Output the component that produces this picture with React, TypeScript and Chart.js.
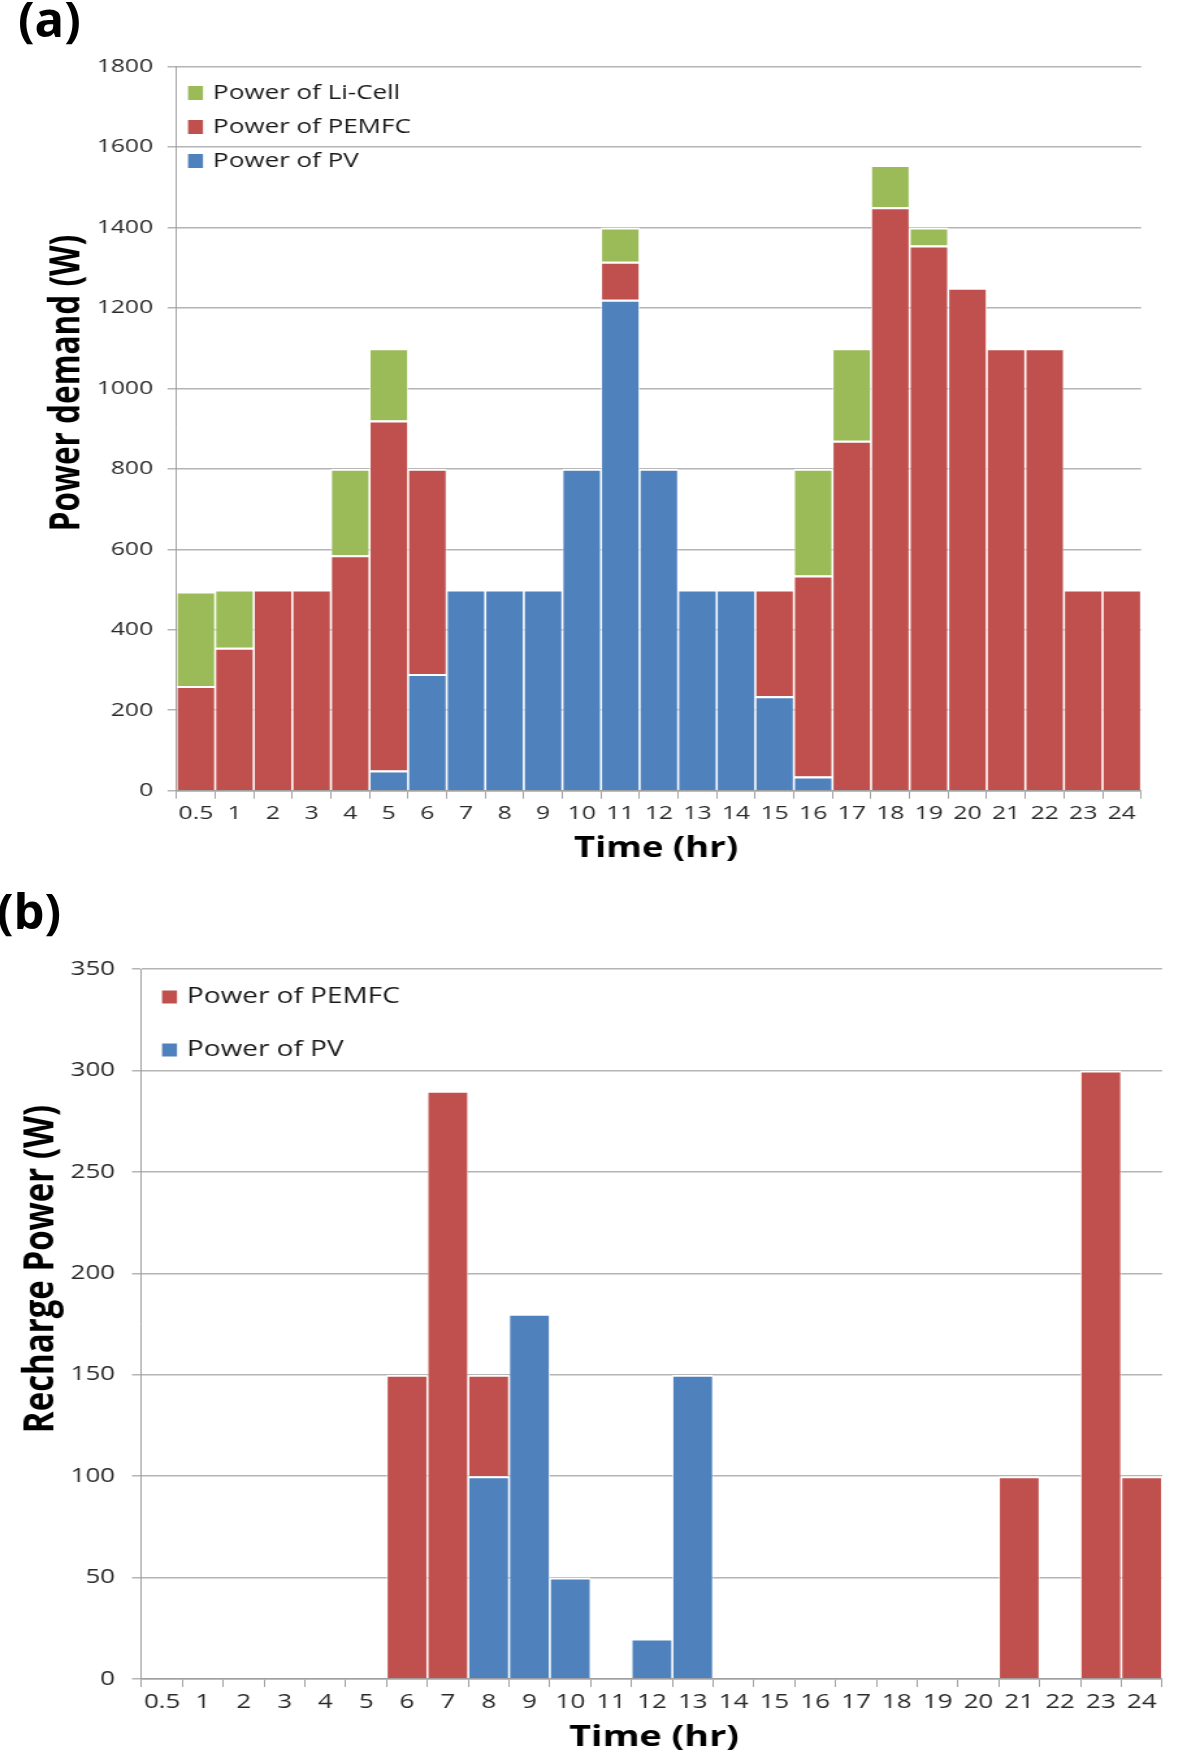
import React, { useEffect, useRef } from "react";
import { Chart, registerables } from "chart.js";

Chart.register(...registerables);

// ---------------- data ----------------
const hourLabels = [
  "0.5", "1", "2", "3", "4", "5", "6", "7", "8", "9", "10", "11", "12",
  "13", "14", "15", "16", "17", "18", "19", "20", "21", "22", "23", "24",
];

// (a) power demand, stacked (W)
const demandPV = [0, 0, 0, 0, 0, 50, 290, 500, 500, 500, 800, 1220, 800, 500, 500, 235, 35, 0, 0, 0, 0, 0, 0, 0, 0];
const demandPEMFC = [260, 355, 500, 500, 585, 870, 510, 0, 0, 0, 0, 95, 0, 0, 0, 265, 500, 870, 1450, 1355, 1250, 1100, 1100, 500, 500];
const demandLiCell = [235, 145, 0, 0, 215, 180, 0, 0, 0, 0, 0, 85, 0, 0, 0, 0, 265, 230, 105, 45, 0, 0, 0, 0, 0];

// (b) recharge power, stacked (W)
const rechargePV = [0, 0, 0, 0, 0, 0, 0, 0, 100, 180, 50, 0, 20, 150, 0, 0, 0, 0, 0, 0, 0, 0, 0, 0, 0];
const rechargePEMFC = [0, 0, 0, 0, 0, 0, 150, 290, 50, 0, 0, 0, 0, 0, 0, 0, 0, 0, 0, 0, 0, 100, 0, 300, 100];

const demandAxis = { min: 0, max: 1800, step: 200 };
const rechargeAxis = { min: 0, max: 350, step: 50 };

const labelLiCell = "Power of Li-Cell";
const labelPEMFC = "Power of PEMFC";
const labelPV = "Power of PV";
const timeTitle = "Time (hr)";
const demandTitle = "Power demand (W)";
const rechargeTitle = "Recharge Power (W)";

// ---------------- styling ----------------
const COLOR_LI = "#9BBB59";
const COLOR_PEMFC = "#C0504D";
const COLOR_PV = "#4F81BD";
const FONT = "'Open Sans', 'Noto Sans', sans-serif";

const S = 1.3; // horizontal stretch of the original figure
const PAGE_W = 1200;
const CANVAS_W = Math.round(PAGE_W / S);

function barDataset(label: string, data: number[], color: string) {
  return {
    label,
    data,
    backgroundColor: color,
    borderColor: "#ffffff",
    borderWidth: { top: 2, left: 0.8, right: 0.8, bottom: 0 },
    borderSkipped: false,
    inflateAmount: 0,
    barPercentage: 1,
    categoryPercentage: 1,
  };
}

type Decor = {
  legendOrder: number[];
  legendY: number[];
  boxX: number;
  boxW: number;
  boxH: number;
  textX: number;
  legendFont: number;
  xTitle: string;
  xTitleX: number;
  xTitleY: number;
  xTitleFont: number;
  yTitle: string;
  yTitleX: number;
  yTitleY: number;
  yTitleFont: number;
};

function makeDecor(d: Decor) {
  return {
    id: "decor",
    afterDraw(chart: any) {
      const ctx = chart.ctx;
      const ds = chart.data.datasets;
      ctx.save();
      ctx.textBaseline = "middle";
      ctx.textAlign = "left";
      d.legendOrder.forEach((idx, row) => {
        const set = ds[idx];
        const cy = d.legendY[row];
        ctx.fillStyle = set.backgroundColor;
        ctx.fillRect(d.boxX, cy - d.boxH / 2, d.boxW, d.boxH);
        ctx.fillStyle = "#1a1a1a";
        ctx.font = `${d.legendFont}px ${FONT}`;
        ctx.fillText(set.label, d.textX, cy);
      });
      ctx.fillStyle = "#000000";
      ctx.textAlign = "center";
      ctx.font = `bold ${d.xTitleFont}px ${FONT}`;
      ctx.fillText(d.xTitle, d.xTitleX, d.xTitleY);
      ctx.translate(d.yTitleX, d.yTitleY);
      ctx.rotate(-Math.PI / 2);
      ctx.font = `bold ${d.yTitleFont}px ${FONT}`;
      ctx.fillText(d.yTitle, 0, 0);
      ctx.restore();
    },
  };
}

type Layout = {
  canvasH: number;
  top: number;
  left: number; // full-page px
  right: number; // full-page px
  bottom: number; // canvas px
  tickFont: number;
  yTickPad: number;
  yTickLen: number;
  xTickPad: number;
};

function buildConfig(datasets: any[], axis: { min: number; max: number; step: number }, L: Layout, decor: Decor) {
  return {
    type: "bar",
    data: { labels: hourLabels, datasets },
    options: {
      responsive: false,
      animation: false,
      devicePixelRatio: 1,
      layout: { padding: { top: L.top, right: CANVAS_W - L.right / S, left: 0, bottom: 0 } },
      plugins: { legend: { display: false }, tooltip: { enabled: false }, title: { display: false } },
      scales: {
        x: {
          stacked: true,
          grid: { drawOnChartArea: false, drawTicks: true, tickLength: 8, color: "#a0a0a0", lineWidth: 1, offset: true },
          border: { display: true, color: "#a0a0a0", width: 1.5 },
          ticks: { font: { family: FONT, size: L.tickFont }, color: "#2a2a2a", padding: L.xTickPad, autoSkip: false, maxRotation: 0 },
          afterFit: (s: any) => {
            s.height = L.canvasH - L.bottom;
          },
        },
        y: {
          stacked: true,
          min: axis.min,
          max: axis.max,
          ticks: {
            stepSize: axis.step,
            font: { family: FONT, size: L.tickFont },
            color: "#2a2a2a",
            padding: L.yTickPad,
            callback: (v: any) => String(v),
          },
          grid: { color: "#b4b4b4", lineWidth: 1.5, tickLength: L.yTickLen, drawTicks: true },
          border: { display: true, color: "#a0a0a0", width: 1 },
          afterFit: (s: any) => {
            s.width = L.left / S;
          },
        },
      },
    },
    plugins: [makeDecor(decor)],
  };
}

function configA() {
  return buildConfig(
    [barDataset(labelPV, demandPV, COLOR_PV), barDataset(labelPEMFC, demandPEMFC, COLOR_PEMFC), barDataset(labelLiCell, demandLiCell, COLOR_LI)],
    demandAxis,
    { canvasH: 880, top: 66.5, left: 176.6, right: 1141, bottom: 790.7, tickFont: 19, yTickPad: 11, yTickLen: 7, xTickPad: 3 },
    {
      legendOrder: [2, 1, 0],
      legendY: [93, 127, 161],
      boxX: 188 / S,
      boxW: 15 / S,
      boxH: 14,
      textX: 213 / S,
      legendFont: 20,
      xTitle: timeTitle,
      xTitleX: 656 / S,
      xTitleY: 849,
      xTitleFont: 28,
      yTitle: demandTitle,
      yTitleX: 68 / S,
      yTitleY: 383,
      yTitleFont: 31.5,
    }
  );
}

function configB() {
  return buildConfig(
    [barDataset(labelPV, rechargePV, COLOR_PV), barDataset(labelPEMFC, rechargePEMFC, COLOR_PEMFC)],
    rechargeAxis,
    { canvasH: 884, top: 89, left: 141.7, right: 1162, bottom: 799, tickFont: 20, yTickPad: 13, yTickLen: 7.5, xTickPad: 3 },
    {
      legendOrder: [1, 0],
      legendY: [117, 170],
      boxX: 162 / S,
      boxW: 15 / S,
      boxH: 13,
      textX: 187 / S,
      legendFont: 21.5,
      xTitle: timeTitle,
      xTitleX: 654 / S,
      xTitleY: 858,
      xTitleFont: 29,
      yTitle: rechargeTitle,
      yTitleX: 41.6 / S,
      yTitleY: 389,
      yTitleFont: 33,
    }
  );
}

function ChartCanvas({ makeConfig, top, height }: { makeConfig: () => any; top: number; height: number }) {
  const ref = useRef<HTMLCanvasElement | null>(null);
  useEffect(() => {
    if (!ref.current) return;
    const chart = new Chart(ref.current, makeConfig());
    return () => chart.destroy();
  }, []);
  return (
    <canvas
      ref={ref}
      width={CANVAS_W}
      height={height}
      style={{ position: "absolute", left: 0, top, width: `${PAGE_W}px`, height: `${height}px` }}
    />
  );
}

const panelLabelStyle = (left: number, top: number): React.CSSProperties => ({
  position: "absolute",
  left,
  top,
  fontFamily: FONT,
  fontWeight: 700,
  fontSize: 49,
  lineHeight: "49px",
  color: "#000",
});

export default function App() {
  return (
    <div style={{ position: "absolute", left: 0, top: 0, width: PAGE_W, height: 1764, background: "#ffffff", overflow: "hidden" }}>
      <ChartCanvas makeConfig={configA} top={0} height={880} />
      <ChartCanvas makeConfig={configB} top={880} height={884} />
      <div style={panelLabelStyle(18, -6)}>(a)</div>
      <div style={panelLabelStyle(-3, 886)}>(b)</div>
    </div>
  );
}
